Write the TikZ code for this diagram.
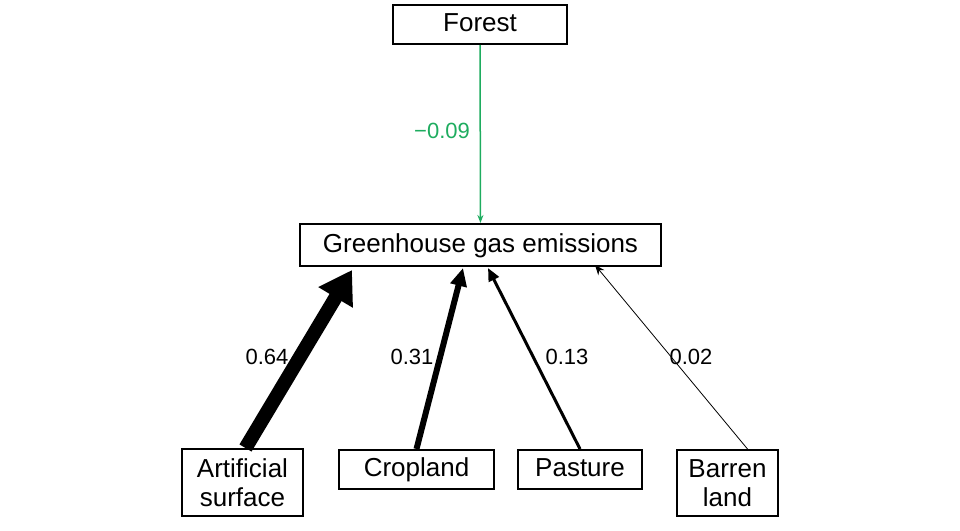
\documentclass[tikz,border=0pt]{standalone}
\usepackage{fontspec}
\setmainfont{Liberation Sans}
\usetikzlibrary{arrows.meta}
\definecolor{grn}{RGB}{30,172,95}
\begin{document}
\begin{tikzpicture}[x=1pt,y=-1pt,
  box/.style={draw,line width=2pt,font=\fontsize{26}{29}\selectfont,align=center,inner sep=0pt},
  one/.style={text depth=5pt,text height=19pt},
  lab/.style={font=\fontsize{22}{26}\selectfont}]
\useasboundingbox (0,0) rectangle (960,530);
\node[box,one,minimum width=174,minimum height=39] (f) at (480,24.5) {Forest};
\node[box,one,minimum width=361,minimum height=42] (g) at (480.5,245) {Greenhouse gas emissions};
\node[box,minimum width=121,minimum height=67] (a) at (242.5,482.5) {Artificial\\surface};
\node[box,one,minimum width=155,minimum height=39] (c) at (416.5,469.5) {Cropland};
\node[box,one,minimum width=124,minimum height=39] (p) at (580,469.5) {Pasture};
\node[box,minimum width=101,minimum height=66] (b) at (727.5,483) {Barren\\land};
\coordinate (ga) at (352,270);
\coordinate (gc) at (463,268);
\coordinate (gp) at (488,268);
\coordinate (gb) at (595,265);
\draw[grn,line width=1.5pt,-{Stealth[length=8,width=6]}] (f) -- (g);
\draw[line width=14pt,-{Triangle[length=32,width=38]}] (a.north) ++(3,0) -- (ga);
\draw[line width=6pt,-{Triangle[length=18,width=16]}] (c.north) -- (gc);
\draw[line width=3pt,-{Triangle[length=13,width=11]}] (p.north) -- (gp);
\draw[line width=0.8pt,-{Stealth[length=10,width=8]}] (b.north) ++(20,0) -- (gb);
\node[lab] at (267,357) {0.64};
\node[lab] at (412,357) {0.31};
\node[lab] at (567,357) {0.13};
\node[lab] at (691,357) {0.02};
\node[lab,text=grn] at (442,131) {−0.09};
\end{tikzpicture}
\end{document}
